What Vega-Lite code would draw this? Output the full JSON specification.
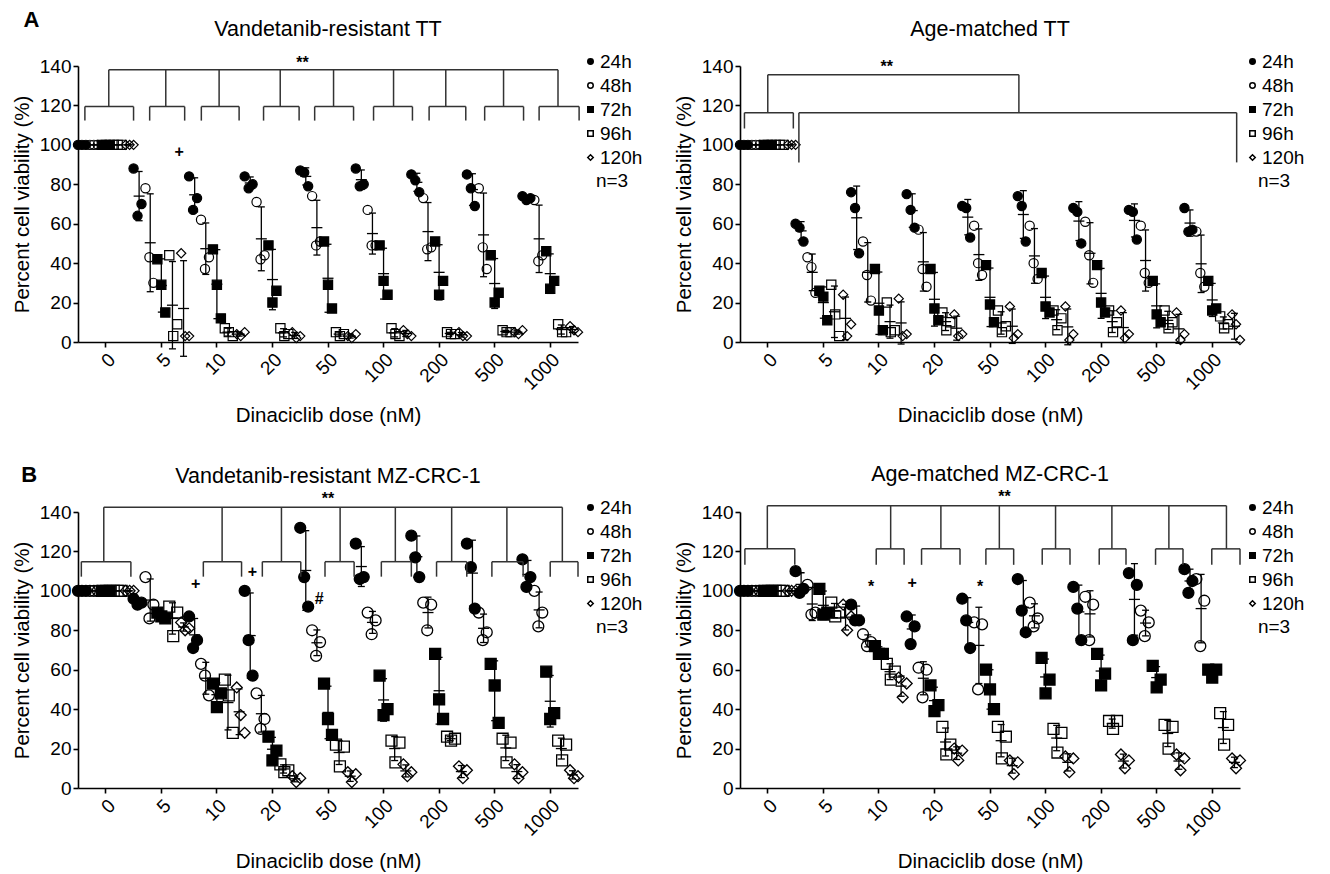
{
"$schema":"https://vega.github.io/schema/vega-lite/v6.json",
"background":"white",
"padding":{"left":12,"top":9,"right":5,"bottom":5},
"bounds":"flush",
"columns":2,
"spacing":{"row":170,"column":162},
"resolve":{"scale":{"shape":"independent","fill":"independent"},"legend":{"shape":"independent","fill":"independent"}},
"config":{
 "font":"Liberation Sans",
 "view":{"stroke":null},
 "axis":{"grid":false,"domainColor":"black","domainWidth":1.6,"tickColor":"black","tickWidth":1.6,"tickSize":5,"labelColor":"black","labelFontSize":19,"titleColor":"black","titleFontSize":20.5,"titleFontWeight":"normal"},
 "axisY":{"labelPadding":2,"titlePadding":7},
 "title":{"fontSize":21.5,"fontWeight":"normal","color":"black","frame":"group","anchor":"middle"},
 "legend":{"labelColor":"black","titleColor":"black"}
},
"datasets":{
"AL":[
{"d":"0","t":"24h","a":100,"b":100,"c":100},{"d":"0","t":"48h","a":100,"b":100,"c":100},{"d":"0","t":"72h","a":100,"b":100,"c":100},{"d":"0","t":"96h","a":100,"b":100,"c":100},{"d":"0","t":"120h","a":100,"b":100,"c":100},
{"d":"5","t":"24h","a":88,"b":64,"c":70},{"d":"5","t":"48h","a":78,"b":43,"c":30},{"d":"5","t":"72h","a":42,"b":29,"c":15},{"d":"5","t":"96h","a":44,"b":3,"c":9},{"d":"5","t":"120h","a":45,"b":3,"c":3},
{"d":"10","t":"24h","a":84,"b":67,"c":73},{"d":"10","t":"48h","a":62,"b":37,"c":43},{"d":"10","t":"72h","a":47,"b":29,"c":12},{"d":"10","t":"96h","a":7,"b":5,"c":3},{"d":"10","t":"120h","a":4,"b":3,"c":5},
{"d":"20","t":"24h","a":84,"b":78,"c":80},{"d":"20","t":"48h","a":71,"b":42,"c":44},{"d":"20","t":"72h","a":49,"b":20,"c":26},{"d":"20","t":"96h","a":7,"b":3,"c":4},{"d":"20","t":"120h","a":5,"b":2,"c":3},
{"d":"50","t":"24h","a":87,"b":86,"c":79},{"d":"50","t":"48h","a":74,"b":49,"c":51},{"d":"50","t":"72h","a":51,"b":29,"c":17},{"d":"50","t":"96h","a":5,"b":3,"c":4},{"d":"50","t":"120h","a":3,"b":2,"c":4},
{"d":"100","t":"24h","a":88,"b":79,"c":80},{"d":"100","t":"48h","a":67,"b":49,"c":49},{"d":"100","t":"72h","a":49,"b":31,"c":24},{"d":"100","t":"96h","a":7,"b":4,"c":3},{"d":"100","t":"120h","a":6,"b":4,"c":3},
{"d":"200","t":"24h","a":85,"b":82,"c":76},{"d":"200","t":"48h","a":73,"b":47,"c":48},{"d":"200","t":"72h","a":51,"b":24,"c":31},{"d":"200","t":"96h","a":5,"b":4,"c":4},{"d":"200","t":"120h","a":5,"b":3,"c":3},
{"d":"500","t":"24h","a":85,"b":78,"c":69},{"d":"500","t":"48h","a":78,"b":48,"c":37},{"d":"500","t":"72h","a":44,"b":20,"c":25},{"d":"500","t":"96h","a":6,"b":5,"c":5},{"d":"500","t":"120h","a":5,"b":4,"c":6},
{"d":"1000","t":"24h","a":74,"b":72,"c":73},{"d":"1000","t":"48h","a":72,"b":41,"c":44},{"d":"1000","t":"72h","a":46,"b":27,"c":31},{"d":"1000","t":"96h","a":9,"b":5,"c":5},{"d":"1000","t":"120h","a":8,"b":6,"c":5}
],
"AR":[
{"d":"0","t":"24h","a":100,"b":100,"c":100},{"d":"0","t":"48h","a":100,"b":100,"c":100},{"d":"0","t":"72h","a":100,"b":100,"c":100},{"d":"0","t":"96h","a":100,"b":100,"c":100},{"d":"0","t":"120h","a":100,"b":100,"c":100},
{"d":"5","t":"24h","a":60,"b":58,"c":51},{"d":"5","t":"48h","a":43,"b":38,"c":25},{"d":"5","t":"72h","a":26,"b":23,"c":11},{"d":"5","t":"96h","a":29,"b":14,"c":3},{"d":"5","t":"120h","a":24,"b":3,"c":9},
{"d":"10","t":"24h","a":76,"b":68,"c":45},{"d":"10","t":"48h","a":51,"b":34,"c":21},{"d":"10","t":"72h","a":37,"b":16,"c":6},{"d":"10","t":"96h","a":20,"b":5,"c":6},{"d":"10","t":"120h","a":22,"b":3,"c":4},
{"d":"20","t":"24h","a":75,"b":67,"c":58},{"d":"20","t":"48h","a":57,"b":37,"c":28},{"d":"20","t":"72h","a":37,"b":17,"c":11},{"d":"20","t":"96h","a":15,"b":6,"c":10},{"d":"20","t":"120h","a":14,"b":3,"c":4},
{"d":"50","t":"24h","a":69,"b":68,"c":53},{"d":"50","t":"48h","a":59,"b":40,"c":34},{"d":"50","t":"72h","a":39,"b":19,"c":10},{"d":"50","t":"96h","a":16,"b":5,"c":8},{"d":"50","t":"120h","a":18,"b":2,"c":4},
{"d":"100","t":"24h","a":74,"b":69,"c":51},{"d":"100","t":"48h","a":59,"b":40,"c":32},{"d":"100","t":"72h","a":35,"b":18,"c":15},{"d":"100","t":"96h","a":16,"b":6,"c":12},{"d":"100","t":"120h","a":18,"b":1,"c":4},
{"d":"200","t":"24h","a":68,"b":66,"c":50},{"d":"200","t":"48h","a":61,"b":44,"c":30},{"d":"200","t":"72h","a":39,"b":20,"c":15},{"d":"200","t":"96h","a":16,"b":5,"c":10},{"d":"200","t":"120h","a":16,"b":2,"c":4},
{"d":"500","t":"24h","a":67,"b":66,"c":52},{"d":"500","t":"48h","a":59,"b":35,"c":30},{"d":"500","t":"72h","a":31,"b":14,"c":10},{"d":"500","t":"96h","a":16,"b":7,"c":10},{"d":"500","t":"120h","a":15,"b":1,"c":4},
{"d":"1000","t":"24h","a":68,"b":56,"c":57},{"d":"1000","t":"48h","a":56,"b":35,"c":28},{"d":"1000","t":"72h","a":31,"b":16,"c":17},{"d":"1000","t":"96h","a":13,"b":7,"c":9},{"d":"1000","t":"120h","a":14,"b":9,"c":1}
],
"BL":[
{"d":"0","t":"24h","a":100,"b":100,"c":100},{"d":"0","t":"48h","a":100,"b":100,"c":100},{"d":"0","t":"72h","a":100,"b":100,"c":100},{"d":"0","t":"96h","a":100,"b":100,"c":100},{"d":"0","t":"120h","a":100,"b":100,"c":100},
{"d":"5","t":"24h","a":96,"b":93,"c":94},{"d":"5","t":"48h","a":107,"b":86,"c":93},{"d":"5","t":"72h","a":89,"b":87,"c":86},{"d":"5","t":"96h","a":92,"b":77,"c":89},{"d":"5","t":"120h","a":84,"b":80,"c":81},
{"d":"10","t":"24h","a":87,"b":71,"c":75},{"d":"10","t":"48h","a":63,"b":57,"c":47},{"d":"10","t":"72h","a":53,"b":41,"c":48},{"d":"10","t":"96h","a":55,"b":47,"c":28},{"d":"10","t":"120h","a":51,"b":37,"c":28},
{"d":"20","t":"24h","a":100,"b":75,"c":57},{"d":"20","t":"48h","a":48,"b":30,"c":35},{"d":"20","t":"72h","a":26,"b":14,"c":19},{"d":"20","t":"96h","a":12,"b":8,"c":9},{"d":"20","t":"120h","a":6,"b":3,"c":5},
{"d":"50","t":"24h","a":132,"b":107,"c":92},{"d":"50","t":"48h","a":80,"b":67,"c":74},{"d":"50","t":"72h","a":53,"b":35,"c":27},{"d":"50","t":"96h","a":22,"b":11,"c":21},{"d":"50","t":"120h","a":8,"b":3,"c":7},
{"d":"100","t":"24h","a":124,"b":106,"c":107},{"d":"100","t":"48h","a":89,"b":78,"c":85},{"d":"100","t":"72h","a":57,"b":37,"c":40},{"d":"100","t":"96h","a":24,"b":13,"c":23},{"d":"100","t":"120h","a":12,"b":6,"c":8},
{"d":"200","t":"24h","a":128,"b":117,"c":107},{"d":"200","t":"48h","a":94,"b":80,"c":93},{"d":"200","t":"72h","a":68,"b":45,"c":35},{"d":"200","t":"96h","a":26,"b":24,"c":25},{"d":"200","t":"120h","a":11,"b":5,"c":9},
{"d":"500","t":"24h","a":124,"b":112,"c":91},{"d":"500","t":"48h","a":89,"b":75,"c":79},{"d":"500","t":"72h","a":63,"b":52,"c":33},{"d":"500","t":"96h","a":25,"b":13,"c":23},{"d":"500","t":"120h","a":12,"b":5,"c":8},
{"d":"1000","t":"24h","a":116,"b":102,"c":107},{"d":"1000","t":"48h","a":100,"b":82,"c":89},{"d":"1000","t":"72h","a":59,"b":35,"c":38},{"d":"1000","t":"96h","a":24,"b":14,"c":22},{"d":"1000","t":"120h","a":9,"b":5,"c":6}
],
"BR":[
{"d":"0","t":"24h","a":100,"b":100,"c":100},{"d":"0","t":"48h","a":100,"b":100,"c":100},{"d":"0","t":"72h","a":100,"b":100,"c":100},{"d":"0","t":"96h","a":100,"b":100,"c":100},{"d":"0","t":"120h","a":100,"b":100,"c":100},
{"d":"5","t":"24h","a":110,"b":99,"c":101},{"d":"5","t":"48h","a":103,"b":88,"c":89},{"d":"5","t":"72h","a":101,"b":88,"c":89},{"d":"5","t":"96h","a":94,"b":87,"c":89},{"d":"5","t":"120h","a":93,"b":80,"c":87},
{"d":"10","t":"24h","a":93,"b":85,"c":85},{"d":"10","t":"48h","a":78,"b":72,"c":74},{"d":"10","t":"72h","a":72,"b":68,"c":68},{"d":"10","t":"96h","a":63,"b":55,"c":59},{"d":"10","t":"120h","a":56,"b":46,"c":53},
{"d":"20","t":"24h","a":87,"b":73,"c":82},{"d":"20","t":"48h","a":61,"b":46,"c":60},{"d":"20","t":"72h","a":52,"b":39,"c":42},{"d":"20","t":"96h","a":31,"b":17,"c":22},{"d":"20","t":"120h","a":20,"b":14,"c":19},
{"d":"50","t":"24h","a":96,"b":85,"c":71},{"d":"50","t":"48h","a":84,"b":50,"c":83},{"d":"50","t":"72h","a":60,"b":50,"c":40},{"d":"50","t":"96h","a":31,"b":15,"c":26},{"d":"50","t":"120h","a":14,"b":7,"c":13},
{"d":"100","t":"24h","a":106,"b":90,"c":79},{"d":"100","t":"48h","a":94,"b":82,"c":86},{"d":"100","t":"72h","a":66,"b":48,"c":55},{"d":"100","t":"96h","a":30,"b":18,"c":28},{"d":"100","t":"120h","a":16,"b":8,"c":15},
{"d":"200","t":"24h","a":102,"b":91,"c":75},{"d":"200","t":"48h","a":97,"b":75,"c":93},{"d":"200","t":"72h","a":68,"b":52,"c":58},{"d":"200","t":"96h","a":34,"b":30,"c":34},{"d":"200","t":"120h","a":17,"b":10,"c":14},
{"d":"500","t":"24h","a":109,"b":75,"c":103},{"d":"500","t":"48h","a":90,"b":77,"c":84},{"d":"500","t":"72h","a":62,"b":51,"c":55},{"d":"500","t":"96h","a":32,"b":20,"c":31},{"d":"500","t":"120h","a":17,"b":9,"c":15},
{"d":"1000","t":"24h","a":111,"b":99,"c":105},{"d":"1000","t":"48h","a":106,"b":72,"c":95},{"d":"1000","t":"72h","a":60,"b":56,"c":60},{"d":"1000","t":"96h","a":38,"b":22,"c":32},{"d":"1000","t":"120h","a":15,"b":10,"c":14}
],
"ALb":[
{"l":0.12,"r":4.5,"mid":2.27,"yb":119.4,"yl":112.3,"yt":138.1},{"l":5.95,"r":9.1,"mid":7.4,"yb":119.4,"yl":112.3,"yt":138.1},{"l":10.6,"r":14.0,"mid":12.2,"yb":119.4,"yl":112.3,"yt":138.1},{"l":16.2,"r":19.4,"mid":17.7,"yb":119.4,"yl":112.3,"yt":138.1},{"l":20.8,"r":24.3,"mid":22.5,"yb":119.4,"yl":112.3,"yt":138.1},{"l":26.1,"r":29.6,"mid":27.9,"yb":119.4,"yl":112.3,"yt":138.1},{"l":31.1,"r":34.4,"mid":32.6,"yb":119.4,"yl":112.3,"yt":138.1},{"l":36.1,"r":39.6,"mid":37.8,"yb":119.4,"yl":112.3,"yt":138.1},{"l":41.0,"r":44.6,"mid":42.7,"yb":119.4,"yl":112.3,"yt":138.1}
],
"ARb":[
{"l":-0.1,"r":4.3,"mid":2.0,"yb":116.3,"yl":108.3,"yt":135.6},{"l":4.8,"r":44.2,"mid":24.6,"yb":116.3,"yl":91.1,"yt":135.6}
],
"BLb":[
{"l":-0.2,"r":4.26,"mid":1.82,"yb":114.8,"yl":107.2,"yt":142.4},{"l":10.78,"r":14.22,"mid":12.47,"yb":114.8,"yl":107.2,"yt":142.4},{"l":16.09,"r":19.55,"mid":17.81,"yb":114.8,"yl":107.2,"yt":142.4},{"l":21.73,"r":24.35,"mid":23.09,"yb":114.8,"yl":107.2,"yt":142.4},{"l":26.8,"r":29.5,"mid":28.06,"yb":114.8,"yl":107.2,"yt":142.4},{"l":31.77,"r":34.49,"mid":33.13,"yb":114.8,"yl":107.2,"yt":142.4},{"l":36.75,"r":39.56,"mid":38.1,"yb":114.8,"yl":107.2,"yt":142.4},{"l":42.0,"r":44.5,"mid":43.09,"yb":114.8,"yl":107.2,"yt":142.4}
],
"BRb":[
{"l":-0.06,"r":4.43,"mid":1.96,"yb":121.3,"yl":113.2,"yt":143.2},{"l":11.76,"r":14.27,"mid":13.06,"yb":121.3,"yl":113.2,"yt":143.2},{"l":15.84,"r":19.3,"mid":17.58,"yb":121.3,"yl":113.2,"yt":143.2},{"l":21.63,"r":24.13,"mid":22.84,"yb":121.3,"yl":113.2,"yt":143.2},{"l":26.7,"r":29.2,"mid":27.9,"yb":121.3,"yl":113.2,"yt":143.2},{"l":31.83,"r":34.24,"mid":32.97,"yb":121.3,"yl":113.2,"yt":143.2},{"l":36.9,"r":39.37,"mid":38.1,"yb":121.3,"yl":113.2,"yt":143.2},{"l":41.96,"r":44.5,"mid":43.28,"yb":121.3,"yl":113.2,"yt":143.2}
],
"ALt":[{"x":19.7,"y":141.6,"s":"**"},{"x":8.6,"y":96.4,"s":"+"},{"x":-4.7,"y":163.3,"s":"A","big":true}],
"ARt":[{"x":12.7,"y":139.5,"s":"**"}],
"BLt":[{"x":22,"y":146.6,"s":"**"},{"x":10.1,"y":103.5,"s":"+"},{"x":15.2,"y":109.6,"s":"+"},{"x":21.2,"y":95.9,"s":"#"},{"x":-4.9,"y":158.8,"s":"B","big":true}],
"BRt":[{"x":23.3,"y":147.5,"s":"**"},{"x":11.3,"y":102,"s":"*"},{"x":15,"y":104,"s":"+"},{"x":21.1,"y":102,"s":"*"}]
},
"concat":[
{
 "width":500,"height":276,
 "title":{"text":"Vandetanib-resistant TT","offset":-31},
 "layer":[
  {
   "data":{"name":"AL"},
   "transform":[{"fold":["a","b","c"],"as":["rep","v"]}],
   "layer":[
    {
     "transform":[{"calculate":"datum.t + datum.rep","as":"tr"}],
     "mark":{"type":"point","filled":true,"stroke":"black","strokeWidth":1.2,"size":85,"opacity":1},
     "encoding":{
      "x":{"field":"d","type":"ordinal","scale":{"type":"band","domain":["0","5","10","20","50","100","200","500","1000"],"paddingInner":0,"paddingOuter":0},"title":"Dinaciclib dose (nM)","axis":{"orient":"bottom","labelAngle":-45,"labelAlign":"right","labelBaseline":"top","labelPadding":3,"titlePadding":12,"labelOverlap":false}},
      "xOffset":{"field":"tr","type":"nominal","scale":{"domain":["24ha","24hb","24hc","48ha","48hb","48hc","72ha","72hb","72hc","96ha","96hb","96hc","120ha","120hb","120hc"],"paddingInner":0,"paddingOuter":0}},
      "y":{"field":"v","type":"quantitative","scale":{"domain":[0,140],"nice":false,"zero":false},"axis":{"values":[0,20,40,60,80,100,120,140],"orient":"left","labelOverlap":false},"title":"Percent cell viability (%)"},
      "shape":{"field":"t","type":"nominal","scale":{"domain":["24h","48h","72h","96h","120h"],"range":["circle","circle","square","square","diamond"]},"legend":{"orient":"none","legendX":503,"legendY":-14,"title":"n=3","titleOrient":"bottom","titleAnchor":"middle","titleFontSize":19,"titleFontWeight":"normal","titlePadding":4,"labelFontSize":19,"labelOffset":0,"symbolSize":30,"rowPadding":4,"padding":0,"encode":{"symbols":{"update":{"stroke":{"value":"black"},"strokeWidth":{"value":1.2}}}}}},
      "fill":{"field":"t","type":"nominal","scale":{"domain":["24h","48h","72h","96h","120h"],"range":["black","transparent","black","transparent","transparent"]},"legend":{"orient":"none","legendX":503,"legendY":-14,"title":"n=3","titleOrient":"bottom","titleAnchor":"middle","titleFontSize":19,"titleFontWeight":"normal","titlePadding":4,"labelFontSize":19,"labelOffset":0,"symbolSize":30,"rowPadding":4,"padding":0,"encode":{"symbols":{"update":{"stroke":{"value":"black"},"strokeWidth":{"value":1.2}}}}}}
     }
    },
    {
     "transform":[
      {"aggregate":[{"op":"mean","field":"v","as":"m"},{"op":"stdev","field":"v","as":"s"}],"groupby":["d","t"]},
      {"calculate":"datum.m - datum.s","as":"lo"},
      {"calculate":"datum.m + datum.s","as":"hi"}
     ],
     "encoding":{
      "x":{"field":"d","type":"ordinal","scale":{"type":"band","domain":["0","5","10","20","50","100","200","500","1000"],"paddingInner":0,"paddingOuter":0},"title":"Dinaciclib dose (nM)"},
      "xOffset":{"field":"t","type":"nominal","scale":{"domain":["24h","48h","72h","96h","120h"],"paddingInner":0,"paddingOuter":0}}
     },
     "layer":[
      {"mark":{"type":"rule","color":"black","strokeWidth":1.3},"encoding":{"y":{"field":"lo","type":"quantitative","scale":{"domain":[0,140],"nice":false,"zero":false},"axis":{"values":[0,20,40,60,80,100,120,140],"orient":"left","labelOverlap":false},"title":"Percent cell viability (%)"},"y2":{"field":"hi"}}},
      {"mark":{"type":"tick","orient":"horizontal","color":"black","thickness":1.3,"size":7,"opacity":1},"encoding":{"y":{"field":"lo","type":"quantitative","scale":{"domain":[0,140],"nice":false,"zero":false},"axis":{"values":[0,20,40,60,80,100,120,140],"orient":"left","labelOverlap":false},"title":"Percent cell viability (%)"}}},
      {"mark":{"type":"tick","orient":"horizontal","color":"black","thickness":1.3,"size":7,"opacity":1},"encoding":{"y":{"field":"hi","type":"quantitative","scale":{"domain":[0,140],"nice":false,"zero":false},"axis":{"values":[0,20,40,60,80,100,120,140],"orient":"left","labelOverlap":false},"title":"Percent cell viability (%)"}}},
      {"mark":{"type":"tick","orient":"horizontal","color":"black","thickness":1.3,"size":11,"opacity":1},"encoding":{"y":{"field":"m","type":"quantitative","scale":{"domain":[0,140],"nice":false,"zero":false},"axis":{"values":[0,20,40,60,80,100,120,140],"orient":"left","labelOverlap":false},"title":"Percent cell viability (%)"}}}
     ]
    }
   ],
   "resolve":{"scale":{"xOffset":"independent"}}
  },
  {
   "data":{"name":"ALb"},
   "layer":[
    {"mark":{"type":"rule","color":"#333","strokeWidth":1.5},"encoding":{"x":{"field":"l","type":"quantitative","scale":{"domain":[-0.5,44.5],"nice":false,"zero":false},"axis":null},"x2":{"field":"r"},"y":{"field":"yb","type":"quantitative","scale":{"domain":[0,140],"nice":false,"zero":false},"axis":{"values":[0,20,40,60,80,100,120,140],"orient":"left","labelOverlap":false},"title":"Percent cell viability (%)"}}},
    {"mark":{"type":"rule","color":"#333","strokeWidth":1.5},"encoding":{"x":{"field":"l","type":"quantitative","scale":{"domain":[-0.5,44.5],"nice":false,"zero":false},"axis":null},"y":{"field":"yl","type":"quantitative","scale":{"domain":[0,140],"nice":false,"zero":false},"axis":{"values":[0,20,40,60,80,100,120,140],"orient":"left","labelOverlap":false},"title":"Percent cell viability (%)"},"y2":{"field":"yb"}}},
    {"mark":{"type":"rule","color":"#333","strokeWidth":1.5},"encoding":{"x":{"field":"r","type":"quantitative","scale":{"domain":[-0.5,44.5],"nice":false,"zero":false},"axis":null},"y":{"field":"yl","type":"quantitative","scale":{"domain":[0,140],"nice":false,"zero":false},"axis":{"values":[0,20,40,60,80,100,120,140],"orient":"left","labelOverlap":false},"title":"Percent cell viability (%)"},"y2":{"field":"yb"}}},
    {"mark":{"type":"rule","color":"#333","strokeWidth":1.5},"encoding":{"x":{"field":"mid","type":"quantitative","scale":{"domain":[-0.5,44.5],"nice":false,"zero":false},"axis":null},"y":{"field":"yb","type":"quantitative","scale":{"domain":[0,140],"nice":false,"zero":false},"axis":{"values":[0,20,40,60,80,100,120,140],"orient":"left","labelOverlap":false},"title":"Percent cell viability (%)"},"y2":{"field":"yt"}}},
    {"mark":{"type":"rule","color":"#333","strokeWidth":1.5},"encoding":{"x":{"aggregate":"min","field":"mid","type":"quantitative","scale":{"domain":[-0.5,44.5],"nice":false,"zero":false},"axis":null},"x2":{"aggregate":"max","field":"mid"},"y":{"field":"yt","type":"quantitative","scale":{"domain":[0,140],"nice":false,"zero":false},"axis":{"values":[0,20,40,60,80,100,120,140],"orient":"left","labelOverlap":false},"title":"Percent cell viability (%)"}}}
   ]
  },
  {
   "data":{"name":"ALt"},
   "layer":[
    {"transform":[{"filter":"!datum.big"}],"mark":{"type":"text","fontSize":16,"fontWeight":"bold","baseline":"middle","align":"center","color":"black"},"encoding":{"x":{"field":"x","type":"quantitative","scale":{"domain":[-0.5,44.5],"nice":false,"zero":false},"axis":null},"y":{"field":"y","type":"quantitative","scale":{"domain":[0,140],"nice":false,"zero":false},"axis":{"values":[0,20,40,60,80,100,120,140],"orient":"left","labelOverlap":false},"title":"Percent cell viability (%)"},"text":{"field":"s","type":"nominal"}}},
    {"transform":[{"filter":"datum.big"}],"mark":{"type":"text","fontSize":22,"fontWeight":"bold","baseline":"middle","align":"center","color":"black"},"encoding":{"x":{"field":"x","type":"quantitative","scale":{"domain":[-0.5,44.5],"nice":false,"zero":false},"axis":null},"y":{"field":"y","type":"quantitative","scale":{"domain":[0,140],"nice":false,"zero":false},"axis":{"values":[0,20,40,60,80,100,120,140],"orient":"left","labelOverlap":false},"title":"Percent cell viability (%)"},"text":{"field":"s","type":"nominal"}}}
   ]
  }
 ],
 "resolve":{"scale":{"x":"independent"}}
},
{
 "width":500,"height":276,
 "title":{"text":"Age-matched TT","offset":12},
 "layer":[
  {
   "data":{"name":"AR"},
   "transform":[{"fold":["a","b","c"],"as":["rep","v"]}],
   "layer":[
    {
     "transform":[{"calculate":"datum.t + datum.rep","as":"tr"}],
     "mark":{"type":"point","filled":true,"stroke":"black","strokeWidth":1.2,"size":85,"opacity":1},
     "encoding":{
      "x":{"field":"d","type":"ordinal","scale":{"type":"band","domain":["0","5","10","20","50","100","200","500","1000"],"paddingInner":0,"paddingOuter":0},"title":"Dinaciclib dose (nM)","axis":{"orient":"bottom","labelAngle":-45,"labelAlign":"right","labelBaseline":"top","labelPadding":3,"titlePadding":12,"labelOverlap":false}},
      "xOffset":{"field":"tr","type":"nominal","scale":{"domain":["24ha","24hb","24hc","48ha","48hb","48hc","72ha","72hb","72hc","96ha","96hb","96hc","120ha","120hb","120hc"],"paddingInner":0,"paddingOuter":0}},
      "y":{"field":"v","type":"quantitative","scale":{"domain":[0,140],"nice":false,"zero":false},"axis":{"values":[0,20,40,60,80,100,120,140],"orient":"left","labelOverlap":false},"title":"Percent cell viability (%)"},
      "shape":{"field":"t","type":"nominal","scale":{"domain":["24h","48h","72h","96h","120h"],"range":["circle","circle","square","square","diamond"]},"legend":{"orient":"none","legendX":503,"legendY":-14,"title":"n=3","titleOrient":"bottom","titleAnchor":"middle","titleFontSize":19,"titleFontWeight":"normal","titlePadding":4,"labelFontSize":19,"labelOffset":0,"symbolSize":30,"rowPadding":4,"padding":0,"encode":{"symbols":{"update":{"stroke":{"value":"black"},"strokeWidth":{"value":1.2}}}}}},
      "fill":{"field":"t","type":"nominal","scale":{"domain":["24h","48h","72h","96h","120h"],"range":["black","transparent","black","transparent","transparent"]},"legend":{"orient":"none","legendX":503,"legendY":-14,"title":"n=3","titleOrient":"bottom","titleAnchor":"middle","titleFontSize":19,"titleFontWeight":"normal","titlePadding":4,"labelFontSize":19,"labelOffset":0,"symbolSize":30,"rowPadding":4,"padding":0,"encode":{"symbols":{"update":{"stroke":{"value":"black"},"strokeWidth":{"value":1.2}}}}}}
     }
    },
    {
     "transform":[
      {"aggregate":[{"op":"mean","field":"v","as":"m"},{"op":"stdev","field":"v","as":"s"}],"groupby":["d","t"]},
      {"calculate":"datum.m - datum.s","as":"lo"},
      {"calculate":"datum.m + datum.s","as":"hi"}
     ],
     "encoding":{
      "x":{"field":"d","type":"ordinal","scale":{"type":"band","domain":["0","5","10","20","50","100","200","500","1000"],"paddingInner":0,"paddingOuter":0},"title":"Dinaciclib dose (nM)"},
      "xOffset":{"field":"t","type":"nominal","scale":{"domain":["24h","48h","72h","96h","120h"],"paddingInner":0,"paddingOuter":0}}
     },
     "layer":[
      {"mark":{"type":"rule","color":"black","strokeWidth":1.3},"encoding":{"y":{"field":"lo","type":"quantitative","scale":{"domain":[0,140],"nice":false,"zero":false},"axis":{"values":[0,20,40,60,80,100,120,140],"orient":"left","labelOverlap":false},"title":"Percent cell viability (%)"},"y2":{"field":"hi"}}},
      {"mark":{"type":"tick","orient":"horizontal","color":"black","thickness":1.3,"size":7,"opacity":1},"encoding":{"y":{"field":"lo","type":"quantitative","scale":{"domain":[0,140],"nice":false,"zero":false},"axis":{"values":[0,20,40,60,80,100,120,140],"orient":"left","labelOverlap":false},"title":"Percent cell viability (%)"}}},
      {"mark":{"type":"tick","orient":"horizontal","color":"black","thickness":1.3,"size":7,"opacity":1},"encoding":{"y":{"field":"hi","type":"quantitative","scale":{"domain":[0,140],"nice":false,"zero":false},"axis":{"values":[0,20,40,60,80,100,120,140],"orient":"left","labelOverlap":false},"title":"Percent cell viability (%)"}}},
      {"mark":{"type":"tick","orient":"horizontal","color":"black","thickness":1.3,"size":11,"opacity":1},"encoding":{"y":{"field":"m","type":"quantitative","scale":{"domain":[0,140],"nice":false,"zero":false},"axis":{"values":[0,20,40,60,80,100,120,140],"orient":"left","labelOverlap":false},"title":"Percent cell viability (%)"}}}
     ]
    }
   ],
   "resolve":{"scale":{"xOffset":"independent"}}
  },
  {
   "data":{"name":"ARb"},
   "layer":[
    {"mark":{"type":"rule","color":"#333","strokeWidth":1.5},"encoding":{"x":{"field":"l","type":"quantitative","scale":{"domain":[-0.5,44.5],"nice":false,"zero":false},"axis":null},"x2":{"field":"r"},"y":{"field":"yb","type":"quantitative","scale":{"domain":[0,140],"nice":false,"zero":false},"axis":{"values":[0,20,40,60,80,100,120,140],"orient":"left","labelOverlap":false},"title":"Percent cell viability (%)"}}},
    {"mark":{"type":"rule","color":"#333","strokeWidth":1.5},"encoding":{"x":{"field":"l","type":"quantitative","scale":{"domain":[-0.5,44.5],"nice":false,"zero":false},"axis":null},"y":{"field":"yl","type":"quantitative","scale":{"domain":[0,140],"nice":false,"zero":false},"axis":{"values":[0,20,40,60,80,100,120,140],"orient":"left","labelOverlap":false},"title":"Percent cell viability (%)"},"y2":{"field":"yb"}}},
    {"mark":{"type":"rule","color":"#333","strokeWidth":1.5},"encoding":{"x":{"field":"r","type":"quantitative","scale":{"domain":[-0.5,44.5],"nice":false,"zero":false},"axis":null},"y":{"field":"yl","type":"quantitative","scale":{"domain":[0,140],"nice":false,"zero":false},"axis":{"values":[0,20,40,60,80,100,120,140],"orient":"left","labelOverlap":false},"title":"Percent cell viability (%)"},"y2":{"field":"yb"}}},
    {"mark":{"type":"rule","color":"#333","strokeWidth":1.5},"encoding":{"x":{"field":"mid","type":"quantitative","scale":{"domain":[-0.5,44.5],"nice":false,"zero":false},"axis":null},"y":{"field":"yb","type":"quantitative","scale":{"domain":[0,140],"nice":false,"zero":false},"axis":{"values":[0,20,40,60,80,100,120,140],"orient":"left","labelOverlap":false},"title":"Percent cell viability (%)"},"y2":{"field":"yt"}}},
    {"mark":{"type":"rule","color":"#333","strokeWidth":1.5},"encoding":{"x":{"aggregate":"min","field":"mid","type":"quantitative","scale":{"domain":[-0.5,44.5],"nice":false,"zero":false},"axis":null},"x2":{"aggregate":"max","field":"mid"},"y":{"field":"yt","type":"quantitative","scale":{"domain":[0,140],"nice":false,"zero":false},"axis":{"values":[0,20,40,60,80,100,120,140],"orient":"left","labelOverlap":false},"title":"Percent cell viability (%)"}}}
   ]
  },
  {
   "data":{"name":"ARt"},
   "mark":{"type":"text","fontSize":16,"fontWeight":"bold","baseline":"middle","align":"center","color":"black"},
   "encoding":{"x":{"field":"x","type":"quantitative","scale":{"domain":[-0.5,44.5],"nice":false,"zero":false},"axis":null},"y":{"field":"y","type":"quantitative","scale":{"domain":[0,140],"nice":false,"zero":false},"axis":{"values":[0,20,40,60,80,100,120,140],"orient":"left","labelOverlap":false},"title":"Percent cell viability (%)"},"text":{"field":"s","type":"nominal"}}
  }
 ],
 "resolve":{"scale":{"x":"independent"}}
},
{
 "width":500,"height":276,
 "title":{"text":"Vandetanib-resistant MZ-CRC-1","offset":-24},
 "layer":[
  {
   "data":{"name":"BL"},
   "transform":[{"fold":["a","b","c"],"as":["rep","v"]}],
   "layer":[
    {
     "transform":[{"calculate":"datum.t + datum.rep","as":"tr"}],
     "mark":{"type":"point","filled":true,"stroke":"black","strokeWidth":1.3,"size":120,"opacity":1},
     "encoding":{
      "x":{"field":"d","type":"ordinal","scale":{"type":"band","domain":["0","5","10","20","50","100","200","500","1000"],"paddingInner":0,"paddingOuter":0},"title":"Dinaciclib dose (nM)","axis":{"orient":"bottom","labelAngle":-45,"labelAlign":"right","labelBaseline":"top","labelPadding":3,"titlePadding":12,"labelOverlap":false}},
      "xOffset":{"field":"tr","type":"nominal","scale":{"domain":["24ha","24hb","24hc","48ha","48hb","48hc","72ha","72hb","72hc","96ha","96hb","96hc","120ha","120hb","120hc"],"paddingInner":0,"paddingOuter":0}},
      "y":{"field":"v","type":"quantitative","scale":{"domain":[0,140],"nice":false,"zero":false},"axis":{"values":[0,20,40,60,80,100,120,140],"orient":"left","labelOverlap":false},"title":"Percent cell viability (%)"},
      "shape":{"field":"t","type":"nominal","scale":{"domain":["24h","48h","72h","96h","120h"],"range":["circle","circle","square","square","diamond"]},"legend":{"orient":"none","legendX":503,"legendY":-14,"title":"n=3","titleOrient":"bottom","titleAnchor":"middle","titleFontSize":19,"titleFontWeight":"normal","titlePadding":4,"labelFontSize":19,"labelOffset":0,"symbolSize":30,"rowPadding":4,"padding":0,"encode":{"symbols":{"update":{"stroke":{"value":"black"},"strokeWidth":{"value":1.2}}}}}},
      "fill":{"field":"t","type":"nominal","scale":{"domain":["24h","48h","72h","96h","120h"],"range":["black","transparent","black","transparent","transparent"]},"legend":{"orient":"none","legendX":503,"legendY":-14,"title":"n=3","titleOrient":"bottom","titleAnchor":"middle","titleFontSize":19,"titleFontWeight":"normal","titlePadding":4,"labelFontSize":19,"labelOffset":0,"symbolSize":30,"rowPadding":4,"padding":0,"encode":{"symbols":{"update":{"stroke":{"value":"black"},"strokeWidth":{"value":1.2}}}}}}
     }
    },
    {
     "transform":[
      {"aggregate":[{"op":"mean","field":"v","as":"m"},{"op":"stdev","field":"v","as":"s"}],"groupby":["d","t"]},
      {"calculate":"datum.m - datum.s","as":"lo"},
      {"calculate":"datum.m + datum.s","as":"hi"}
     ],
     "encoding":{
      "x":{"field":"d","type":"ordinal","scale":{"type":"band","domain":["0","5","10","20","50","100","200","500","1000"],"paddingInner":0,"paddingOuter":0},"title":"Dinaciclib dose (nM)"},
      "xOffset":{"field":"t","type":"nominal","scale":{"domain":["24h","48h","72h","96h","120h"],"paddingInner":0,"paddingOuter":0}}
     },
     "layer":[
      {"mark":{"type":"rule","color":"black","strokeWidth":1.3},"encoding":{"y":{"field":"lo","type":"quantitative","scale":{"domain":[0,140],"nice":false,"zero":false},"axis":{"values":[0,20,40,60,80,100,120,140],"orient":"left","labelOverlap":false},"title":"Percent cell viability (%)"},"y2":{"field":"hi"}}},
      {"mark":{"type":"tick","orient":"horizontal","color":"black","thickness":1.3,"size":7,"opacity":1},"encoding":{"y":{"field":"lo","type":"quantitative","scale":{"domain":[0,140],"nice":false,"zero":false},"axis":{"values":[0,20,40,60,80,100,120,140],"orient":"left","labelOverlap":false},"title":"Percent cell viability (%)"}}},
      {"mark":{"type":"tick","orient":"horizontal","color":"black","thickness":1.3,"size":7,"opacity":1},"encoding":{"y":{"field":"hi","type":"quantitative","scale":{"domain":[0,140],"nice":false,"zero":false},"axis":{"values":[0,20,40,60,80,100,120,140],"orient":"left","labelOverlap":false},"title":"Percent cell viability (%)"}}},
      {"mark":{"type":"tick","orient":"horizontal","color":"black","thickness":1.3,"size":11,"opacity":1},"encoding":{"y":{"field":"m","type":"quantitative","scale":{"domain":[0,140],"nice":false,"zero":false},"axis":{"values":[0,20,40,60,80,100,120,140],"orient":"left","labelOverlap":false},"title":"Percent cell viability (%)"}}}
     ]
    }
   ],
   "resolve":{"scale":{"xOffset":"independent"}}
  },
  {
   "data":{"name":"BLb"},
   "layer":[
    {"mark":{"type":"rule","color":"#333","strokeWidth":1.5},"encoding":{"x":{"field":"l","type":"quantitative","scale":{"domain":[-0.5,44.5],"nice":false,"zero":false},"axis":null},"x2":{"field":"r"},"y":{"field":"yb","type":"quantitative","scale":{"domain":[0,140],"nice":false,"zero":false},"axis":{"values":[0,20,40,60,80,100,120,140],"orient":"left","labelOverlap":false},"title":"Percent cell viability (%)"}}},
    {"mark":{"type":"rule","color":"#333","strokeWidth":1.5},"encoding":{"x":{"field":"l","type":"quantitative","scale":{"domain":[-0.5,44.5],"nice":false,"zero":false},"axis":null},"y":{"field":"yl","type":"quantitative","scale":{"domain":[0,140],"nice":false,"zero":false},"axis":{"values":[0,20,40,60,80,100,120,140],"orient":"left","labelOverlap":false},"title":"Percent cell viability (%)"},"y2":{"field":"yb"}}},
    {"mark":{"type":"rule","color":"#333","strokeWidth":1.5},"encoding":{"x":{"field":"r","type":"quantitative","scale":{"domain":[-0.5,44.5],"nice":false,"zero":false},"axis":null},"y":{"field":"yl","type":"quantitative","scale":{"domain":[0,140],"nice":false,"zero":false},"axis":{"values":[0,20,40,60,80,100,120,140],"orient":"left","labelOverlap":false},"title":"Percent cell viability (%)"},"y2":{"field":"yb"}}},
    {"mark":{"type":"rule","color":"#333","strokeWidth":1.5},"encoding":{"x":{"field":"mid","type":"quantitative","scale":{"domain":[-0.5,44.5],"nice":false,"zero":false},"axis":null},"y":{"field":"yb","type":"quantitative","scale":{"domain":[0,140],"nice":false,"zero":false},"axis":{"values":[0,20,40,60,80,100,120,140],"orient":"left","labelOverlap":false},"title":"Percent cell viability (%)"},"y2":{"field":"yt"}}},
    {"mark":{"type":"rule","color":"#333","strokeWidth":1.5},"encoding":{"x":{"aggregate":"min","field":"mid","type":"quantitative","scale":{"domain":[-0.5,44.5],"nice":false,"zero":false},"axis":null},"x2":{"aggregate":"max","field":"mid"},"y":{"field":"yt","type":"quantitative","scale":{"domain":[0,140],"nice":false,"zero":false},"axis":{"values":[0,20,40,60,80,100,120,140],"orient":"left","labelOverlap":false},"title":"Percent cell viability (%)"}}}
   ]
  },
  {
   "data":{"name":"BLt"},
   "layer":[
    {"transform":[{"filter":"!datum.big"}],"mark":{"type":"text","fontSize":16,"fontWeight":"bold","baseline":"middle","align":"center","color":"black"},"encoding":{"x":{"field":"x","type":"quantitative","scale":{"domain":[-0.5,44.5],"nice":false,"zero":false},"axis":null},"y":{"field":"y","type":"quantitative","scale":{"domain":[0,140],"nice":false,"zero":false},"axis":{"values":[0,20,40,60,80,100,120,140],"orient":"left","labelOverlap":false},"title":"Percent cell viability (%)"},"text":{"field":"s","type":"nominal"}}},
    {"transform":[{"filter":"datum.big"}],"mark":{"type":"text","fontSize":22,"fontWeight":"bold","baseline":"middle","align":"center","color":"black"},"encoding":{"x":{"field":"x","type":"quantitative","scale":{"domain":[-0.5,44.5],"nice":false,"zero":false},"axis":null},"y":{"field":"y","type":"quantitative","scale":{"domain":[0,140],"nice":false,"zero":false},"axis":{"values":[0,20,40,60,80,100,120,140],"orient":"left","labelOverlap":false},"title":"Percent cell viability (%)"},"text":{"field":"s","type":"nominal"}}}
   ]
  }
 ],
 "resolve":{"scale":{"x":"independent"}}
},
{
 "width":500,"height":276,
 "title":{"text":"Age-matched MZ-CRC-1","offset":4},
 "layer":[
  {
   "data":{"name":"BR"},
   "transform":[{"fold":["a","b","c"],"as":["rep","v"]}],
   "layer":[
    {
     "transform":[{"calculate":"datum.t + datum.rep","as":"tr"}],
     "mark":{"type":"point","filled":true,"stroke":"black","strokeWidth":1.3,"size":120,"opacity":1},
     "encoding":{
      "x":{"field":"d","type":"ordinal","scale":{"type":"band","domain":["0","5","10","20","50","100","200","500","1000"],"paddingInner":0,"paddingOuter":0},"title":"Dinaciclib dose (nM)","axis":{"orient":"bottom","labelAngle":-45,"labelAlign":"right","labelBaseline":"top","labelPadding":3,"titlePadding":12,"labelOverlap":false}},
      "xOffset":{"field":"tr","type":"nominal","scale":{"domain":["24ha","24hb","24hc","48ha","48hb","48hc","72ha","72hb","72hc","96ha","96hb","96hc","120ha","120hb","120hc"],"paddingInner":0,"paddingOuter":0}},
      "y":{"field":"v","type":"quantitative","scale":{"domain":[0,140],"nice":false,"zero":false},"axis":{"values":[0,20,40,60,80,100,120,140],"orient":"left","labelOverlap":false},"title":"Percent cell viability (%)"},
      "shape":{"field":"t","type":"nominal","scale":{"domain":["24h","48h","72h","96h","120h"],"range":["circle","circle","square","square","diamond"]},"legend":{"orient":"none","legendX":503,"legendY":-14,"title":"n=3","titleOrient":"bottom","titleAnchor":"middle","titleFontSize":19,"titleFontWeight":"normal","titlePadding":4,"labelFontSize":19,"labelOffset":0,"symbolSize":30,"rowPadding":4,"padding":0,"encode":{"symbols":{"update":{"stroke":{"value":"black"},"strokeWidth":{"value":1.2}}}}}},
      "fill":{"field":"t","type":"nominal","scale":{"domain":["24h","48h","72h","96h","120h"],"range":["black","transparent","black","transparent","transparent"]},"legend":{"orient":"none","legendX":503,"legendY":-14,"title":"n=3","titleOrient":"bottom","titleAnchor":"middle","titleFontSize":19,"titleFontWeight":"normal","titlePadding":4,"labelFontSize":19,"labelOffset":0,"symbolSize":30,"rowPadding":4,"padding":0,"encode":{"symbols":{"update":{"stroke":{"value":"black"},"strokeWidth":{"value":1.2}}}}}}
     }
    },
    {
     "transform":[
      {"aggregate":[{"op":"mean","field":"v","as":"m"},{"op":"stdev","field":"v","as":"s"}],"groupby":["d","t"]},
      {"calculate":"datum.m - datum.s","as":"lo"},
      {"calculate":"datum.m + datum.s","as":"hi"}
     ],
     "encoding":{
      "x":{"field":"d","type":"ordinal","scale":{"type":"band","domain":["0","5","10","20","50","100","200","500","1000"],"paddingInner":0,"paddingOuter":0},"title":"Dinaciclib dose (nM)"},
      "xOffset":{"field":"t","type":"nominal","scale":{"domain":["24h","48h","72h","96h","120h"],"paddingInner":0,"paddingOuter":0}}
     },
     "layer":[
      {"mark":{"type":"rule","color":"black","strokeWidth":1.3},"encoding":{"y":{"field":"lo","type":"quantitative","scale":{"domain":[0,140],"nice":false,"zero":false},"axis":{"values":[0,20,40,60,80,100,120,140],"orient":"left","labelOverlap":false},"title":"Percent cell viability (%)"},"y2":{"field":"hi"}}},
      {"mark":{"type":"tick","orient":"horizontal","color":"black","thickness":1.3,"size":7,"opacity":1},"encoding":{"y":{"field":"lo","type":"quantitative","scale":{"domain":[0,140],"nice":false,"zero":false},"axis":{"values":[0,20,40,60,80,100,120,140],"orient":"left","labelOverlap":false},"title":"Percent cell viability (%)"}}},
      {"mark":{"type":"tick","orient":"horizontal","color":"black","thickness":1.3,"size":7,"opacity":1},"encoding":{"y":{"field":"hi","type":"quantitative","scale":{"domain":[0,140],"nice":false,"zero":false},"axis":{"values":[0,20,40,60,80,100,120,140],"orient":"left","labelOverlap":false},"title":"Percent cell viability (%)"}}},
      {"mark":{"type":"tick","orient":"horizontal","color":"black","thickness":1.3,"size":11,"opacity":1},"encoding":{"y":{"field":"m","type":"quantitative","scale":{"domain":[0,140],"nice":false,"zero":false},"axis":{"values":[0,20,40,60,80,100,120,140],"orient":"left","labelOverlap":false},"title":"Percent cell viability (%)"}}}
     ]
    }
   ],
   "resolve":{"scale":{"xOffset":"independent"}}
  },
  {
   "data":{"name":"BRb"},
   "layer":[
    {"mark":{"type":"rule","color":"#333","strokeWidth":1.5},"encoding":{"x":{"field":"l","type":"quantitative","scale":{"domain":[-0.5,44.5],"nice":false,"zero":false},"axis":null},"x2":{"field":"r"},"y":{"field":"yb","type":"quantitative","scale":{"domain":[0,140],"nice":false,"zero":false},"axis":{"values":[0,20,40,60,80,100,120,140],"orient":"left","labelOverlap":false},"title":"Percent cell viability (%)"}}},
    {"mark":{"type":"rule","color":"#333","strokeWidth":1.5},"encoding":{"x":{"field":"l","type":"quantitative","scale":{"domain":[-0.5,44.5],"nice":false,"zero":false},"axis":null},"y":{"field":"yl","type":"quantitative","scale":{"domain":[0,140],"nice":false,"zero":false},"axis":{"values":[0,20,40,60,80,100,120,140],"orient":"left","labelOverlap":false},"title":"Percent cell viability (%)"},"y2":{"field":"yb"}}},
    {"mark":{"type":"rule","color":"#333","strokeWidth":1.5},"encoding":{"x":{"field":"r","type":"quantitative","scale":{"domain":[-0.5,44.5],"nice":false,"zero":false},"axis":null},"y":{"field":"yl","type":"quantitative","scale":{"domain":[0,140],"nice":false,"zero":false},"axis":{"values":[0,20,40,60,80,100,120,140],"orient":"left","labelOverlap":false},"title":"Percent cell viability (%)"},"y2":{"field":"yb"}}},
    {"mark":{"type":"rule","color":"#333","strokeWidth":1.5},"encoding":{"x":{"field":"mid","type":"quantitative","scale":{"domain":[-0.5,44.5],"nice":false,"zero":false},"axis":null},"y":{"field":"yb","type":"quantitative","scale":{"domain":[0,140],"nice":false,"zero":false},"axis":{"values":[0,20,40,60,80,100,120,140],"orient":"left","labelOverlap":false},"title":"Percent cell viability (%)"},"y2":{"field":"yt"}}},
    {"mark":{"type":"rule","color":"#333","strokeWidth":1.5},"encoding":{"x":{"aggregate":"min","field":"mid","type":"quantitative","scale":{"domain":[-0.5,44.5],"nice":false,"zero":false},"axis":null},"x2":{"aggregate":"max","field":"mid"},"y":{"field":"yt","type":"quantitative","scale":{"domain":[0,140],"nice":false,"zero":false},"axis":{"values":[0,20,40,60,80,100,120,140],"orient":"left","labelOverlap":false},"title":"Percent cell viability (%)"}}}
   ]
  },
  {
   "data":{"name":"BRt"},
   "mark":{"type":"text","fontSize":16,"fontWeight":"bold","baseline":"middle","align":"center","color":"black"},
   "encoding":{"x":{"field":"x","type":"quantitative","scale":{"domain":[-0.5,44.5],"nice":false,"zero":false},"axis":null},"y":{"field":"y","type":"quantitative","scale":{"domain":[0,140],"nice":false,"zero":false},"axis":{"values":[0,20,40,60,80,100,120,140],"orient":"left","labelOverlap":false},"title":"Percent cell viability (%)"},"text":{"field":"s","type":"nominal"}}
  }
 ],
 "resolve":{"scale":{"x":"independent"}}
}
]
}
